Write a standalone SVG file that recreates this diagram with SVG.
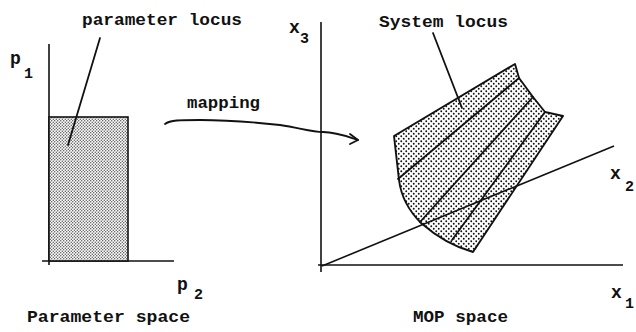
<svg xmlns="http://www.w3.org/2000/svg" width="636" height="332" viewBox="0 0 636 332">
<defs>
<pattern id="dense" width="3" height="3" patternUnits="userSpaceOnUse">
<rect width="3" height="3" fill="#fff"/>
<circle cx="0.75" cy="0.75" r="0.7" fill="#444"/>
<circle cx="2.25" cy="2.25" r="0.7" fill="#444"/>
</pattern>
<pattern id="sparse" width="5" height="5" patternUnits="userSpaceOnUse">
<rect width="5" height="5" fill="#fff"/>
<circle cx="1.25" cy="1.25" r="0.95" fill="#111"/>
<circle cx="3.75" cy="3.75" r="0.95" fill="#111"/>
</pattern>
</defs>
<style>
.t{font-family:"Liberation Mono","DejaVu Sans Mono",monospace;font-weight:bold;font-size:17px;fill:#111}
.l{font-family:"Liberation Mono","DejaVu Sans Mono",monospace;font-weight:bold;font-size:18px;fill:#111}
.s{font-family:"Liberation Mono","DejaVu Sans Mono",monospace;font-weight:bold;font-size:15px;fill:#111}
.ax{stroke:#111;stroke-width:1.6;fill:none}
.ln{stroke:#111;stroke-width:1.8;fill:none;stroke-linecap:round;stroke-linejoin:round}
</style>
<g id="parameter-space">
<line class="ax" x1="49" y1="44" x2="49" y2="265"/>
<line class="ax" x1="42" y1="261" x2="174" y2="261"/>
<rect x="49" y="117" width="79" height="144" fill="url(#dense)" stroke="#111" stroke-width="1.6"/>
<text class="l" x="10" y="64">p</text>
<text class="s" x="24" y="78">1</text>
<text class="l" x="177" y="290">p</text>
<text class="s" x="194" y="299">2</text>
<text class="t" x="82" y="25" textLength="160" lengthAdjust="spacingAndGlyphs">parameter locus</text>
<text class="t" x="27" y="322" textLength="163" lengthAdjust="spacingAndGlyphs">Parameter space</text>
</g>
<g id="mop-space">
<line class="ax" x1="321" y1="22" x2="321" y2="272"/>
<line class="ax" x1="318" y1="265" x2="623" y2="265"/>
<path d="M394,136 L515,64 L519,78 L533,97 L545,112 L563,116 L473,252 C455,247 437,237 421,223 C408,210 401,196 399,180 Z" fill="url(#sparse)" stroke="#111" stroke-width="1.9" stroke-linejoin="round"/>
<line class="ln" x1="519" y1="78" x2="398" y2="179"/>
<line class="ln" x1="533" y1="97" x2="420" y2="222"/>
<line class="ln" x1="545" y1="112" x2="452" y2="240"/>
<line class="ax" x1="322" y1="266" x2="614" y2="146"/>
<text class="l" x="289" y="33">x</text>
<text class="s" x="300" y="43">3</text>
<text class="l" x="610" y="179">x</text>
<text class="s" x="625" y="191">2</text>
<text class="l" x="611" y="298">x</text>
<text class="s" x="625" y="308">1</text>
<text class="t" x="379" y="27" textLength="129" lengthAdjust="spacingAndGlyphs">System locus</text>
<text class="t" x="413" y="322" textLength="95" lengthAdjust="spacingAndGlyphs">MOP space</text>
</g>
<g id="connectors">
<line class="ln" x1="100" y1="38" x2="68" y2="145" stroke-width="1.5"/>
<line class="ln" x1="433" y1="33" x2="462" y2="108" stroke-width="1.5"/>
<path class="ln" d="M165,124 C170,120 180,120 200,120 C230,120 252,122 280,125 C300,128 312,132 323,132 C336,132 346,136 358,140" stroke-width="1.6"/>
<path class="ln" d="M350,134 L358,140 L350,144" stroke-width="1.6"/>
<text class="t" x="187" y="108" textLength="73" lengthAdjust="spacingAndGlyphs">mapping</text>
</g>
</svg>
